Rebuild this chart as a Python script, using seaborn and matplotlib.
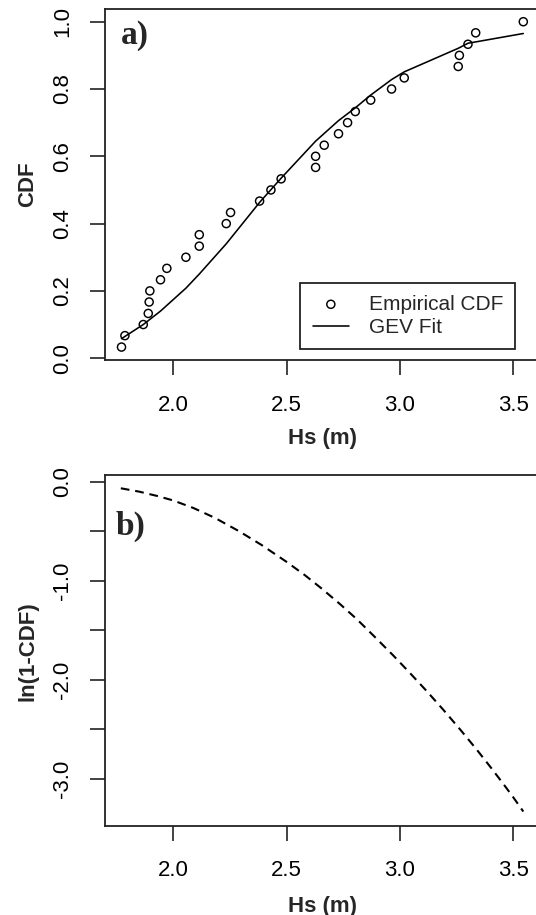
import numpy as np
import pandas as pd
import matplotlib
matplotlib.use("Agg")
import matplotlib.pyplot as plt
import seaborn as sns

# ---- data ----
emp_hs = [1.772, 1.787, 1.868, 1.890, 1.894, 1.897, 1.944, 1.972, 2.056, 2.115,
          2.115, 2.234, 2.253, 2.381, 2.431, 2.476, 2.628, 2.628, 2.666, 2.729,
          2.769, 2.803, 2.871, 2.963, 3.019, 3.257, 3.262, 3.300, 3.334, 3.544]
emp_cdf = [0.033, 0.067, 0.100, 0.133, 0.167, 0.200, 0.233, 0.267, 0.300, 0.333,
           0.367, 0.400, 0.433, 0.467, 0.500, 0.533, 0.567, 0.600, 0.633, 0.667,
           0.700, 0.733, 0.767, 0.800, 0.833, 0.867, 0.900, 0.933, 0.967, 1.000]

gev_hs = [1.772, 1.868, 1.944, 2.056, 2.115, 2.234, 2.381, 2.476, 2.628, 2.729,
          2.803, 2.871, 2.963, 3.019, 3.257, 3.300, 3.334, 3.544]
gev_cdf = [0.058, 0.100, 0.140, 0.208, 0.250, 0.340, 0.463, 0.535, 0.645, 0.706,
           0.744, 0.782, 0.828, 0.851, 0.921, 0.936, 0.940, 0.965]

b_hs = [1.769, 1.85, 1.93, 2.0, 2.09, 2.184, 2.29, 2.39, 2.5, 2.581, 2.655, 2.735,
        2.81, 2.89, 2.97, 3.044, 3.118, 3.191, 3.265, 3.338, 3.40, 3.456, 3.50, 3.544]
b_ln = [-0.067, -0.101, -0.145, -0.19, -0.267, -0.366, -0.50, -0.64, -0.81, -0.945,
        -1.08, -1.235, -1.389, -1.57, -1.754, -1.932, -2.115, -2.303, -2.501, -2.704,
        -2.884, -3.052, -3.188, -3.331]

x_ticks = [2.0, 2.5, 3.0, 3.5]
x_ticklabels = ["2.0", "2.5", "3.0", "3.5"]
a_yticks = [0.0, 0.2, 0.4, 0.6, 0.8, 1.0]
a_yticklabels = ["0.0", "0.2", "0.4", "0.6", "0.8", "1.0"]
b_yticks = [0.0, -0.5, -1.0, -1.5, -2.0, -2.5, -3.0]
b_yticklabels = ["0.0", "", "-1.0", "", "-2.0", "", "-3.0"]

# ---- style ----
sns.set_style("white")
plt.rcParams["font.family"] = ["Liberation Sans", "DejaVu Sans"]
plt.rcParams["axes.edgecolor"] = "#222222"
plt.rcParams["axes.linewidth"] = 1.3

W, H = 536, 915
fig = plt.figure(figsize=(W / 100, H / 100), dpi=100)

def axes_px(left, right, top, bottom):
    return fig.add_axes([left / W, 1 - bottom / H, (right - left) / W, (bottom - top) / H])

ax1 = axes_px(105.4, 539.4, 8.7, 360.0)
ax2 = axes_px(105.4, 539.4, 475.3, 826.3)

emp_df = pd.DataFrame({"Hs": emp_hs, "CDF": emp_cdf})
gev_df = pd.DataFrame({"Hs": gev_hs, "CDF": gev_cdf})
b_df = pd.DataFrame({"Hs": b_hs, "ln": b_ln})

# panel a
sns.scatterplot(data=emp_df, x="Hs", y="CDF", ax=ax1, marker="o", s=34,
                facecolors="none", edgecolor="black", linewidth=1.05,
                label="Empirical CDF", zorder=3)
sns.lineplot(data=gev_df, x="Hs", y="CDF", ax=ax1, color="black", linewidth=1.15,
             sort=False, estimator=None, label="GEV Fit")

# panel b
sns.lineplot(data=b_df, x="Hs", y="ln", ax=ax2, color="black", linewidth=1.5,
             sort=False, estimator=None, linestyle=(0, (4.2, 2.8)))

tickfont = 16
for ax in (ax1, ax2):
    ax.set_xlim(1.701, 3.615)
    ax.set_xticks(x_ticks)
    ax.set_xticklabels(x_ticklabels)
    ax.tick_params(axis="both", direction="out", length=10.5, width=1.2,
                   color="#222222", labelsize=tickfont, labelcolor="black",
                   bottom=True, left=True)
    ax.tick_params(axis="y", labelrotation=90, pad=12.5)
    for sp in ax.spines.values():
        sp.set_linewidth(1.3)
        sp.set_color("#222222")

ax1.tick_params(axis="x", pad=14.9)
ax2.tick_params(axis="x", pad=13.9)

ax1.set_ylim(-0.0054, 1.0387)
ax1.set_yticks(a_yticks)
ax1.set_yticklabels(a_yticklabels, rotation=90, va="center")
ax2.set_ylim(-3.48, 0.064)
ax2.set_yticks(b_yticks)
ax2.set_yticklabels(b_yticklabels, rotation=90, va="center")

lab_kw = dict(fontsize=16, fontweight="bold")
ax1.set_xlabel("Hs (m)", labelpad=8.6, **lab_kw)
ax1.set_ylabel("CDF", labelpad=10, **lab_kw)
ax2.set_xlabel("Hs (m)", labelpad=10.5, **lab_kw)
ax2.set_ylabel("ln(1-CDF)", labelpad=10, **lab_kw)

h, l = ax1.get_legend_handles_labels()
leg = ax1.legend(h, l, loc="lower right", bbox_to_anchor=(0.9438, 0.0313),
                 borderaxespad=0, fontsize=15, frameon=True, fancybox=False,
                 framealpha=1, edgecolor="#222222", handlelength=1.76,
                 handletextpad=0.93, labelspacing=0.2, borderpad=0.58)
leg.get_frame().set_linewidth(1.3)

serif = ["Liberation Serif", "DejaVu Serif"]
fig.text(121.0 / W, 1 - 44.0 / H, "a)", fontsize=24, fontweight="bold",
         family=serif, ha="left", va="baseline")
fig.text(116.0 / W, 1 - 534.5 / H, "b)", fontsize=24, fontweight="bold",
         family=serif, ha="left", va="baseline")

fig.savefig("out.png", dpi=100)
